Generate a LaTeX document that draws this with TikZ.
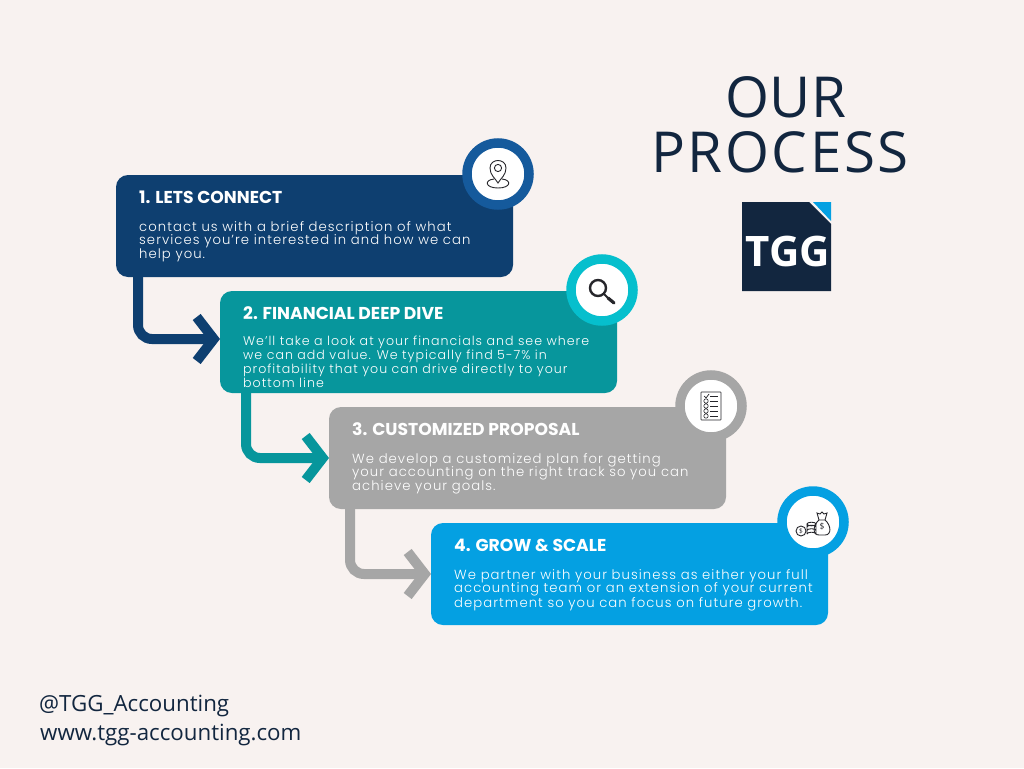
\documentclass[tikz,border=0pt]{standalone}
\usepackage{fontspec}
\usetikzlibrary{arrows.meta,shapes.geometric}
\setmainfont{Open Sans}
\newfontfamily\popfont[LetterSpace=8]{Poppins Light}
\newfontfamily\popbold{Poppins}[BoldFont={Poppins Bold}]
\definecolor{pagebg}{HTML}{F8F2F0}
\definecolor{navy}{HTML}{12263F}
\definecolor{boxone}{HTML}{0E3F70}
\definecolor{ringone}{HTML}{155A9C}
\definecolor{boxtwo}{HTML}{07969C}
\definecolor{ringtwo}{HTML}{06BFCD}
\definecolor{boxthree}{HTML}{A6A6A6}
\definecolor{boxfour}{HTML}{04A0E2}
\definecolor{icondark}{HTML}{26262B}
\tikzset{
  stepbox/.style = {rectangle, rounded corners=12pt, minimum width=397pt, minimum height=102pt, inner sep=0pt, outer sep=0pt, anchor=north west},
  ring/.style = {circle, fill=white, line width=9.5pt, minimum size=62pt, inner sep=0pt},
  headtext/.style = {anchor=west, inner sep=0pt, text=white, font=\popbold\bfseries\fontsize{17.2}{18}\selectfont},
  bodytext/.style = {anchor=north west, inner sep=0pt, text=white, align=left, font=\popfont\fontsize{13.2}{13.5}\selectfont},
  tighttext/.style = {bodytext, font=\popfont\fontsize{12.6}{12.2}\selectfont},
  link/.style = {line width=10pt, rounded corners=14pt, -{Straight Barb[length=17pt,width=44pt,line width=10pt]}},
  icon/.style = {draw=icondark, line width=0.9pt},
}
\begin{document}
\begin{tikzpicture}[x=1pt, y=-1pt]
\fill[pagebg] (0,0) rectangle (1024,768);
\useasboundingbox (0,0) rectangle (1024,768);

% steps
\node[stepbox, fill=boxone] (box1) at (116,175) {};
\node[stepbox, fill=boxtwo] (box2) at ([xshift=104pt,yshift=-14pt]box1.south west) {};
\node[stepbox, fill=boxthree] (box3) at ([xshift=109pt,yshift=-14pt]box2.south west) {};
\node[stepbox, fill=boxfour] (box4) at ([xshift=102pt,yshift=-14pt]box3.south west) {};

\node[headtext] (head1) at ([xshift=23pt,yshift=-22pt]box1.north west) {1. LETS CONNECT};
\node[bodytext] (body1) at ([xshift=23pt,yshift=-46pt]box1.north west) {contact us with a brief description of what\\services you’re interested in and how we can\\help you.};
\node[headtext] (head2) at ([xshift=23pt,yshift=-22pt]box2.north west) {2. FINANCIAL DEEP DIVE};
\node[tighttext] (body2) at ([xshift=23pt,yshift=-45pt]box2.north west) {We’ll take a look at your financials and see where\\we can add value. We typically find 5-7\% in\\profitability that you can drive directly to your\\bottom line};
\node[headtext] (head3) at ([xshift=23pt,yshift=-22pt]box3.north west) {3. CUSTOMIZED PROPOSAL};
\node[bodytext] (body3) at ([xshift=23pt,yshift=-46pt]box3.north west) {We develop a customized plan for getting\\your accounting on the right track so you can\\achieve your goals.};
\node[headtext] (head4) at ([xshift=23pt,yshift=-22pt]box4.north west) {4. GROW \& SCALE};
\node[bodytext] (body4) at ([xshift=23pt,yshift=-46pt]box4.north west) {We partner with your business as either your full\\accounting team or an extension of your current\\department so you can focus on future growth.};

% arrows between the steps
\draw[link, boxone] ([xshift=22pt]box1.south west) |- ([yshift=3pt]box2.west);
\draw[link, boxtwo] ([xshift=26pt]box2.south west) |- (box3.west);
\draw[link, boxthree] ([xshift=21pt]box3.south west) |- (box4.west);

% rings
\node[ring, draw=ringone] (ring1) at (498,174) {};
\node[ring, draw=ringtwo] (ring2) at (602,290) {};
\node[ring, draw=boxthree] (ring3) at (711,406) {};
\node[ring, draw=boxfour] (ring4) at (813,522) {};

% pin
\begin{scope}[shift={(ring1.center)}]
\draw[icon] (0,9) .. controls (-3,4) and (-8,1) .. (-8,-6) .. controls (-8,-16) and (8,-16) .. (8,-6) .. controls (8,1) and (3,4) .. (0,9) -- cycle;
\draw[icon] (0,-6) circle (3.6);
\draw[icon] (-4,5) .. controls (-14,6) and (-13,14) .. (0,14) .. controls (13,14) and (14,6) .. (4,5);
\end{scope}

% magnifier
\begin{scope}[shift={(ring2.center)}]
\draw[icondark, line width=2.4pt] (-4,-2) circle (8);
\draw[icondark, line width=1.8pt] (2,4) -- (7,9);
\draw[icondark, line width=3.2pt, line cap=round] (6,8) -- (12,13);
\end{scope}

% checklist
\begin{scope}[shift={(ring3.center)}]
\draw[icon, line width=0.6pt, rounded corners=0.5pt] (-10,-14) rectangle (10,14);
\draw[icon, line width=0.7pt] (-7,-10) -- (-5,-8) -- (-2,-12);
\draw[icon, line width=0.6pt] (-5,-5) circle (2.2) (-5,0) circle (2.2) (-5,5) circle (2.2) (-5,10) circle (2.2);
\draw[icon, line width=0.6pt] (-1,-10) -- (7,-10) (-1,-5) -- (7,-5) (-1,0) -- (7,0) (-1,5) -- (7,5) (-1,10) -- (7,10);
\end{scope}

% money bag and coins
\begin{scope}[shift={(ring4.center)}]
\draw[icon] (6,-2) .. controls (0,3) and (-1,13) .. (6,13) -- (12,13) .. controls (19,13) and (18,3) .. (12,-2) -- cycle;
\draw[icon] (6,-2) -- (4,-9) -- (7,-8) -- (9,-10) -- (11,-8) -- (14,-9) -- (12,-2);
\node[inner sep=0pt, text=icondark, font=\fontsize{8.5}{8.5}\selectfont] (dollar1) at (9,5) {\$};
\draw[icon] (-12,9) circle (5);
\node[inner sep=0pt, text=icondark, font=\fontsize{6.5}{6.5}\selectfont] (dollar2) at (-12,9) {\$};
\draw[icon] (-1.5,2) ellipse (4.5 and 1.8) (-6,2) -- (-6,12) (3,2) -- (3,12) (-6,5) arc (180:360:4.5 and 1.8) (-6,8.5) arc (180:360:4.5 and 1.8) (-6,12) arc (180:360:4.5 and 1.8);
\end{scope}

% logo
\fill[navy] (742,202) -- (809,202) -- (831,224) -- (831,291) -- (742,291) -- cycle;
\fill[boxfour] (813,202) -- (831,202) -- (831,221) -- cycle;
\node[inner sep=0pt, text=white, font=\bfseries\fontsize{42}{42}\selectfont] (logo) at (788,251) {TGG};

% title and handles
\node[inner sep=0pt, text=navy, font=\fontsize{56.5}{56.5}\selectfont] (title1) at (786,97) {OUR};
\node[inner sep=0pt, text=navy, font=\fontsize{56.5}{56.5}\selectfont\addfontfeature{LetterSpace=4.5}] (title2) at (780,152) {PROCESS};
\node[anchor=west, inner sep=0pt, text=navy, font=\fontsize{22.3}{22.3}\selectfont] (handle) at (39,706) {@TGG\_Accounting};
\node[anchor=west, inner sep=0pt, text=navy, font=\fontsize{22.3}{22.3}\selectfont] (web) at (40,735) {www.tgg-accounting.com};
\end{tikzpicture}
\end{document}
